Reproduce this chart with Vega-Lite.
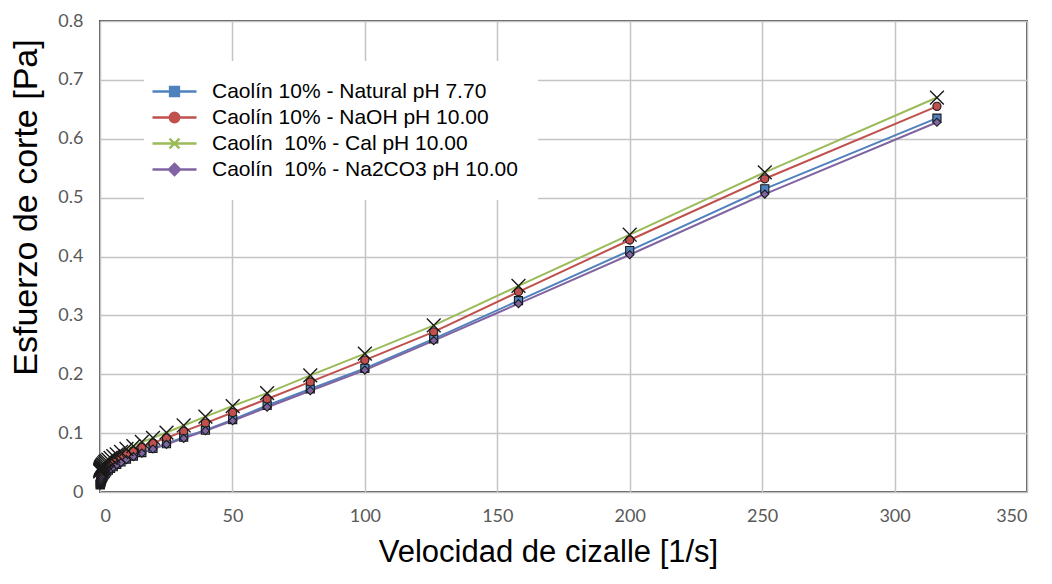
{
  "$schema": "https://vega.github.io/schema/vega-lite/v6.json",
  "width": 927,
  "height": 471,
  "autosize": {"type": "none"},
  "padding": {"left": 100, "top": 21, "right": 25, "bottom": 92},
  "background": "white",
  "config": {
    "view": {"stroke": "#555555", "strokeWidth": 2},
    "axis": {
      "grid": true,
      "gridColor": "#c4c4c4",
      "gridWidth": 1.5,
      "domain": false,
      "ticks": false,
      "labelFont": "Lato",
      "labelFontSize": 18,
      "labelColor": "#595959",
      "titleFontWeight": "normal",
      "titleColor": "#000000"
    }
  },
  "data": {
    "values": [
      {"g": 0.1, "Natural": 0.012, "NaOH": 0.018, "Cal": 0.035, "Na2CO3": 0.012},
      {"g": 0.126, "Natural": 0.013, "NaOH": 0.019, "Cal": 0.036, "Na2CO3": 0.013},
      {"g": 0.158, "Natural": 0.014, "NaOH": 0.02, "Cal": 0.037, "Na2CO3": 0.014},
      {"g": 0.2, "Natural": 0.015, "NaOH": 0.021, "Cal": 0.038, "Na2CO3": 0.015},
      {"g": 0.251, "Natural": 0.016, "NaOH": 0.022, "Cal": 0.039, "Na2CO3": 0.016},
      {"g": 0.316, "Natural": 0.017, "NaOH": 0.023, "Cal": 0.04, "Na2CO3": 0.017},
      {"g": 0.398, "Natural": 0.018, "NaOH": 0.025, "Cal": 0.041, "Na2CO3": 0.018},
      {"g": 0.501, "Natural": 0.02, "NaOH": 0.026, "Cal": 0.042, "Na2CO3": 0.019},
      {"g": 0.631, "Natural": 0.021, "NaOH": 0.028, "Cal": 0.043, "Na2CO3": 0.021},
      {"g": 0.794, "Natural": 0.023, "NaOH": 0.03, "Cal": 0.044, "Na2CO3": 0.023},
      {"g": 1.0, "Natural": 0.025, "NaOH": 0.032, "Cal": 0.046, "Na2CO3": 0.025},
      {"g": 1.26, "Natural": 0.027, "NaOH": 0.034, "Cal": 0.047, "Na2CO3": 0.027},
      {"g": 1.58, "Natural": 0.029, "NaOH": 0.037, "Cal": 0.049, "Na2CO3": 0.029},
      {"g": 2.0, "Natural": 0.031, "NaOH": 0.039, "Cal": 0.051, "Na2CO3": 0.031},
      {"g": 2.51, "Natural": 0.034, "NaOH": 0.042, "Cal": 0.053, "Na2CO3": 0.033},
      {"g": 3.16, "Natural": 0.037, "NaOH": 0.045, "Cal": 0.055, "Na2CO3": 0.036},
      {"g": 3.98, "Natural": 0.04, "NaOH": 0.048, "Cal": 0.058, "Na2CO3": 0.039},
      {"g": 5.01, "Natural": 0.043, "NaOH": 0.052, "Cal": 0.061, "Na2CO3": 0.042},
      {"g": 6.31, "Natural": 0.047, "NaOH": 0.056, "Cal": 0.064, "Na2CO3": 0.046},
      {"g": 7.94, "Natural": 0.051, "NaOH": 0.06, "Cal": 0.068, "Na2CO3": 0.05},
      {"g": 10.0, "Natural": 0.056, "NaOH": 0.065, "Cal": 0.073, "Na2CO3": 0.055},
      {"g": 12.6, "Natural": 0.061, "NaOH": 0.07, "Cal": 0.078, "Na2CO3": 0.06},
      {"g": 15.8, "Natural": 0.067, "NaOH": 0.076, "Cal": 0.085, "Na2CO3": 0.066},
      {"g": 20.0, "Natural": 0.074, "NaOH": 0.083, "Cal": 0.092, "Na2CO3": 0.073},
      {"g": 25.1, "Natural": 0.082, "NaOH": 0.092, "Cal": 0.101, "Na2CO3": 0.081},
      {"g": 31.6, "Natural": 0.093, "NaOH": 0.103, "Cal": 0.113, "Na2CO3": 0.091},
      {"g": 39.8, "Natural": 0.105, "NaOH": 0.117, "Cal": 0.128, "Na2CO3": 0.104},
      {"g": 50.1, "Natural": 0.123, "NaOH": 0.135, "Cal": 0.146, "Na2CO3": 0.121},
      {"g": 63.1, "Natural": 0.147, "NaOH": 0.158, "Cal": 0.168, "Na2CO3": 0.144},
      {"g": 79.4, "Natural": 0.175, "NaOH": 0.187, "Cal": 0.198, "Na2CO3": 0.172},
      {"g": 100, "Natural": 0.21, "NaOH": 0.224, "Cal": 0.235, "Na2CO3": 0.207},
      {"g": 126, "Natural": 0.26, "NaOH": 0.272, "Cal": 0.283, "Na2CO3": 0.257},
      {"g": 158, "Natural": 0.325, "NaOH": 0.34, "Cal": 0.35, "Na2CO3": 0.32},
      {"g": 200, "Natural": 0.41, "NaOH": 0.428, "Cal": 0.437, "Na2CO3": 0.403},
      {"g": 251, "Natural": 0.515, "NaOH": 0.532, "Cal": 0.543, "Na2CO3": 0.506},
      {"g": 316, "Natural": 0.635, "NaOH": 0.655, "Cal": 0.67, "Na2CO3": 0.628}
    ]
  },
  "transform": [
    {"fold": ["Natural", "NaOH", "Cal", "Na2CO3"], "as": ["serie", "stress"]}
  ],
  "encoding": {
    "x": {
      "field": "g",
      "type": "quantitative",
      "scale": {"domain": [0, 350], "nice": false},
      "axis": {
        "title": "Velocidad de cizalle [1/s]",
        "values": [0, 50, 100, 150, 200, 250, 300, 350],
        "labelPadding": 15,
        "titleFont": "Liberation Sans",
        "titleFontSize": 31,
        "titlePadding": 12,
        "titleX": 448
      }
    },
    "y": {
      "field": "stress",
      "type": "quantitative",
      "scale": {"domain": [0, 0.8], "nice": false},
      "axis": {
        "title": "Esfuerzo de corte [Pa]",
        "values": [0, 0.1, 0.2, 0.3, 0.4, 0.5, 0.6, 0.7, 0.8],
        "labelExpr": "datum.value === 0 ? '0' : format(datum.value, '.1f')",
        "labelPadding": 17,
        "titleFont": "Liberation Sans",
        "titleFontSize": 34,
        "titleX": -57,
        "titleY": 186,
        "titleAlign": "center",
        "titleBaseline": "bottom"
      }
    },
    "color": {
      "field": "serie",
      "type": "nominal",
      "scale": {
        "domain": ["Natural", "NaOH", "Cal", "Na2CO3"],
        "range": ["#4F81BD", "#C0504D", "#9BBB59", "#8064A2"]
      },
      "legend": {
        "title": null,
        "orient": "none",
        "legendX": 44,
        "legendY": 40,
        "padding": 20,
        "fillColor": "white",
        "strokeColor": null,
        "labelFont": "Liberation Sans",
        "labelFontSize": 21,
        "labelColor": "#000000",
        "labelLimit": 600,
        "labelOffset": 27,
        "symbolSize": 121,
        "rowPadding": 4,
        "labelExpr": "{'Natural': 'Caolín 10% - Natural pH 7.70', 'NaOH': 'Caolín 10% - NaOH pH 10.00', 'Cal': 'Caolín\u00a0 10% - Cal pH 10.00', 'Na2CO3': 'Caolín\u00a0 10% - Na2CO3 pH 10.00'}[datum.label]",
        "encoding": {
          "symbols": {
            "shape": {"value": {"expr": "datum.value === 'Natural' ? 'M-4,0H4M-0.8,-0.8H0.8V0.8H-0.8Z' : datum.value === 'NaOH' ? 'M-4,0H4M0.85,0A0.85,0.85,0,1,1,-0.85,0A0.85,0.85,0,1,1,0.85,0Z' : datum.value === 'Cal' ? 'M-4,0H4M-0.9,-0.9L0.9,0.9M-0.9,0.9L0.9,-0.9' : 'M-4,0H4M0,-1L1,0L0,1L-1,0Z'"}},
            "stroke": {"value": {"expr": "scale('color', datum.value)"}},
            "fill": {"value": {"expr": "scale('color', datum.value)"}},
            "strokeWidth": {"value": 2.5},
            "opacity": {"value": 1}
          }
        }
      }
    }
  },
  "layer": [
    {"mark": {"type": "line", "strokeWidth": 2}},
    {
      "transform": [{"filter": "datum.serie === 'Natural'"}],
      "mark": {"type": "point", "shape": "square", "filled": true, "stroke": "#1a1a1a", "strokeWidth": 1.1, "size": 66, "opacity": 1}
    },
    {
      "transform": [{"filter": "datum.serie === 'NaOH'"}],
      "mark": {"type": "point", "shape": "circle", "filled": true, "stroke": "#1a1a1a", "strokeWidth": 1.1, "size": 66, "opacity": 1}
    },
    {
      "transform": [{"filter": "datum.serie === 'Na2CO3'"}],
      "mark": {"type": "point", "shape": "diamond", "filled": true, "stroke": "#1a1a1a", "strokeWidth": 1.1, "size": 66, "opacity": 1}
    },
    {
      "transform": [{"filter": "datum.serie === 'Cal'"}],
      "mark": {"type": "point", "shape": "M-1.7,-1.7L1.7,1.7M-1.7,1.7L1.7,-1.7", "filled": true, "stroke": "#1a1a1a", "strokeWidth": 1.4, "size": 66, "opacity": 1}
    }
  ]
}
